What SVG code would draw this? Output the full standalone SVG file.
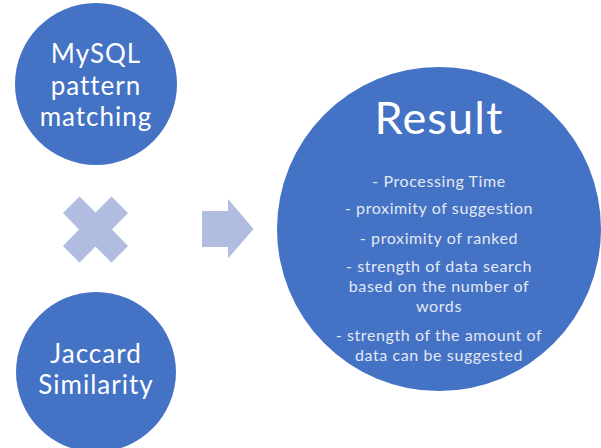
<svg xmlns="http://www.w3.org/2000/svg" width="601" height="448" viewBox="0 0 601 448">
  <style>
    .node { fill: #4472C4; }
    .shape { fill: #B0BCE0; }
    .big { font-family: Lato, "Open Sans", sans-serif; font-size: 26px; letter-spacing: 1px; fill: #FFFFFF; text-anchor: middle; }
    .title { font-family: Lato, "Open Sans", sans-serif; font-size: 45px; letter-spacing: 1.2px; fill: #FFFFFF; text-anchor: middle; }
    .item { font-family: Lato, "Open Sans", sans-serif; font-size: 16px; letter-spacing: 0.6px; fill: #E3E8F5; text-anchor: middle; }
  </style>
  <rect width="601" height="448" fill="#FFFFFF"/>

  <g id="mysql">
    <circle class="node" cx="96" cy="84" r="81"/>
    <text class="big" x="96" y="63">MySQL</text>
    <text class="big" x="96" y="94.5">pattern</text>
    <text class="big" x="96" y="126">matching</text>
  </g>

  <g id="jaccard">
    <circle class="node" cx="96" cy="372" r="80"/>
    <text class="big" x="96" y="363">Jaccard</text>
    <text class="big" x="96" y="394">Similarity</text>
  </g>

  <g id="result">
    <circle class="node" cx="439" cy="229" r="162"/>
    <text class="title" x="439" y="134">Result</text>
    <text class="item" x="439" y="187">- Processing Time</text>
    <text class="item" x="439" y="214">- proximity of suggestion</text>
    <text class="item" x="439" y="244">- proximity of ranked</text>
    <text class="item" x="439" y="272">- strength of data search</text>
    <text class="item" x="439" y="292">based on the number of</text>
    <text class="item" x="439" y="312">words</text>
    <text class="item" x="439" y="341">- strength of the amount of</text>
    <text class="item" x="439" y="361">data can be suggested</text>
  </g>

  <g id="connectors">
    <!-- multiply sign between the two methods -->
    <polygon class="shape" points="63,213 79.5,196.5 95.5,212.5 111.5,196.5 128,213 112,229.5 128,246 111.5,262.5 95.5,246.5 79.5,262.5 63,246 79,229.5"/>
    <!-- block arrow toward the result -->
    <polygon class="shape" points="202,211 228,211 228,199 253.5,229 228,258.5 228,247 202,247"/>
  </g>
</svg>
